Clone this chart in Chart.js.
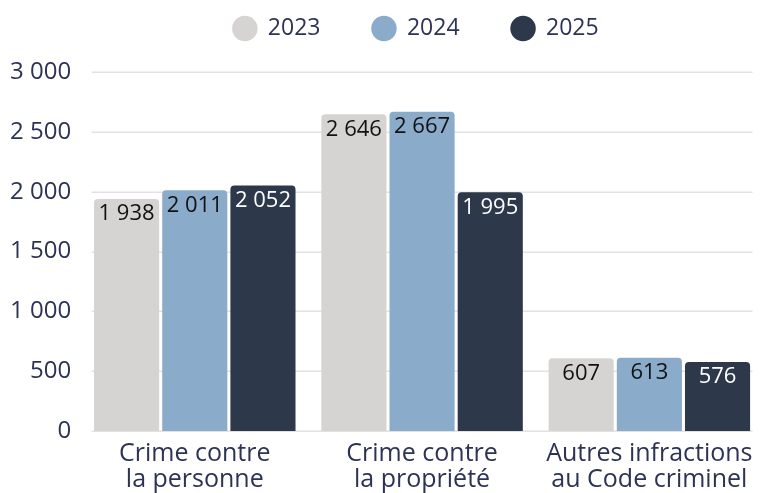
<!DOCTYPE html>
<html>
<head>
<meta charset="utf-8">
<script src="https://cdn.jsdelivr.net/npm/chart.js@4"></script>
<style>
html,body{margin:0;padding:0;background:#fff;}
#wrap{width:765px;height:493px;position:relative;}
</style>
</head>
<body>
<div id="wrap"><canvas id="c" width="765" height="493"></canvas></div>
<script>
const categories = [["Crime contre","la personne"],["Crime contre","la propriété"],["Autres infractions","au Code criminel"]];
const seriesNames = ["2023","2024","2025"];
const values2023 = [1938, 2646, 607];
const values2024 = [2011, 2667, 613];
const values2025 = [2052, 1995, 576];
const yTicks = [0, 500, 1000, 1500, 2000, 2500, 3000];

const colors = ["#d6d3d3", "#8aabca", "#2d384b"];
const labelColors = ["#111111", "#111111", "#ffffff"];
const textColor = "#2d3354";
const fmt = v => String(v).replace(/\B(?=(\d{3})+(?!\d))/g, " ");

const gridLines = {
  id: "gridLines",
  beforeDatasetsDraw(chart) {
    const ctx = chart.ctx, y = chart.scales.y, a = chart.chartArea;
    ctx.save();
    ctx.strokeStyle = "#e2e2e6";
    ctx.lineWidth = 1.5;
    yTicks.forEach(v => {
      const py = Math.round(y.getPixelForValue(v)) + 0.25;
      ctx.beginPath();
      ctx.moveTo(a.left + 10.5, py);
      ctx.lineTo(a.right - 10.5, py);
      ctx.stroke();
    });
    ctx.restore();
  }
};

const valueLabels = {
  id: "valueLabels",
  afterDatasetsDraw(chart) {
    const ctx = chart.ctx;
    ctx.save();
    ctx.font = "22px 'Open Sans'";
    ctx.textAlign = "center";
    ctx.textBaseline = "top";
    chart.data.datasets.forEach((ds, i) => {
      const meta = chart.getDatasetMeta(i);
      meta.data.forEach((bar, j) => {
        ctx.fillStyle = labelColors[i];
        ctx.fillText(fmt(ds.data[j]), bar.x, bar.y + 4);
      });
    });
    ctx.restore();
  }
};

const legendSpace = {
  id: "legendSpace",
  beforeInit(chart) {
    const lg = chart.legend;
    if (!lg) return;
    const orig = lg.fit;
    lg.fit = function () { orig.call(this); this.height += 22; };
  },
  afterLayout(chart) {
    if (chart.legend) chart.legend.left += 69;
  }
};

new Chart(document.getElementById("c"), {
  type: "bar",
  data: {
    labels: categories,
    datasets: [values2023, values2024, values2025].map((d, i) => ({
      label: seriesNames[i],
      data: d,
      backgroundColor: colors[i],
      borderRadius: {topLeft: 4, topRight: 4, bottomLeft: 0, bottomRight: 0},
      borderSkipped: false,
      barPercentage: 0.955,
      categoryPercentage: 0.9
    }))
  },
  options: {
    responsive: false,
    animation: false,
    layout: {padding: {left: 0, right: 2, top: -35, bottom: -10}},
    plugins: {
      legend: {
        position: "top",
        labels: {
          usePointStyle: true,
          pointStyle: "circle",
          boxWidth: 23,
          boxHeight: 18,
          padding: 52,
          color: textColor,
          font: {family: "'Open Sans'", size: 23}
        }
      },
      tooltip: {enabled: false}
    },
    scales: {
      x: {
        grid: {display: false, drawTicks: false},
        border: {display: false},
        ticks: {color: textColor, font: {family: "'Open Sans'", size: 25, lineHeight: 1.04}, maxRotation: 0, padding: 10}
      },
      y: {
        min: 0, max: 3000,
        afterBuildTicks: s => { s.ticks = yTicks.map(v => ({value: v})); },
        grid: {display: false, drawTicks: false},
        border: {display: false},
        ticks: {color: textColor, font: {family: "'Open Sans'", size: 24}, padding: 10, callback: v => fmt(v)}
      }
    }
  },
  plugins: [legendSpace, gridLines, valueLabels]
});
</script>
</body>
</html>
